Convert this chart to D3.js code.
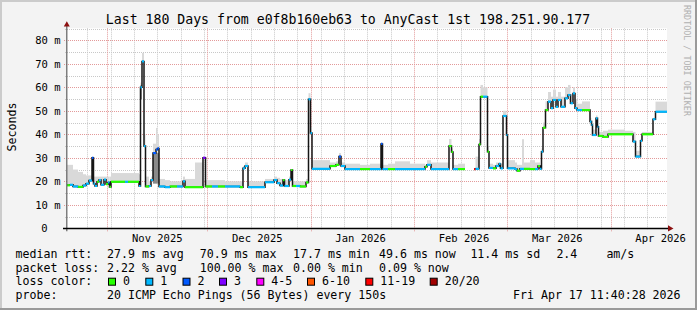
<!DOCTYPE html>
<html><head><meta charset="utf-8">
<script src="https://cdn.jsdelivr.net/npm/d3@7"></script>
<style>
body{margin:0;background:#fff}
svg{display:block}
text{font-family:'DejaVu Sans Mono','Liberation Mono',monospace;fill:#000}
</style>
</head><body>
<svg id="c" width="697" height="310"></svg>
<script>
// ---------- data ----------
const titleText = "Last 180 Days from e0f8b160eb63 to AnyCast 1st 198.251.90.177";
const startUTC = Date.UTC(2025, 9, 19, 21, 50);   // left edge of the plot
const spanDays = 180;

const yMajorTicks = [0, 10, 20, 30, 40, 50, 60, 70, 80];
const yMajorLabels = ["0", "10 m", "20 m", "30 m", "40 m", "50 m", "60 m", "70 m", "80 m"];
const yMinorTicks = [5, 15, 25, 35, 45, 55, 65, 75, 85];
const monthLabels = ["Nov 2025", "Dec 2025", "Jan 2026", "Feb 2026", "Mar 2026", "Apr 2026"];
const monthLabelDates = ["2025-11-16", "2025-12-16", "2026-01-16", "2026-02-16", "2026-03-16", "2026-04-16"];

// median RTT samples (start day offset, ms), loss bucket, smoke top (ms)
const days = [0, 0.9, 1.8, 3.3, 4.8, 5.7, 6.6, 7.5, 7.95, 8.4, 9.0, 9.6, 10.2, 11.1, 11.7, 12.3, 12.75, 13.2, 17.4, 18.3,
  21.6, 22.05, 22.5, 23.1, 23.55, 24.6, 25.2, 25.8, 26.7, 27.15, 27.6, 29.4, 30.9, 33.0, 34.8, 35.4, 38.4, 40.8, 41.55, 43.5,
  45.3, 47.4, 51.9, 52.8, 53.4, 54.3, 59.4, 62.1, 63.0, 63.9, 64.8, 65.25, 66.6, 67.2, 67.65, 68.7, 69.9, 71.7, 72.45, 73.05,
  73.5, 78.9, 80.7, 81.6, 82.2, 83.4, 87.9, 90.9, 94.2, 94.65, 96.3, 98.4, 102.9, 107.4, 108.0, 109.2, 114.6, 115.35, 115.8, 117.3,
  119.4, 122.1, 122.55, 123.6, 124.05, 124.8, 126.15, 126.6, 127.8, 128.7, 129.6, 130.05, 130.8, 131.85, 132.15, 134.4, 135.0, 135.9, 136.5, 137.1,
  138.9, 140.4, 141.3, 141.9, 142.35, 142.8, 143.55, 144.3, 145.2, 145.8, 146.7, 147.3, 148.2, 149.4, 150.3, 151.05, 151.8, 152.4, 153.0, 154.5,
  156.9, 157.35, 157.65, 158.7, 159.15, 159.45, 160.8, 162.3, 167.4, 169.8, 170.55, 172.05, 172.5, 175.8, 176.55];
const median = [18.3, 18.5, 17.8, 17.6, 18.2, 19.0, 20.3, 30.0, 19.0, 18.0, 19.8, 20.5, 18.5, 20.7, 18.8, 19.5, 17.6, 19.8, 19.8, 19.8,
  18.0, 60.0, 71.0, 35.0, 17.8, 18.0, 20.5, 32.0, 33.5, 34.0, 17.8, 17.5, 17.8, 17.8, 20.0, 17.5, 17.5, 30.0, 17.8, 17.8,
  17.8, 17.8, 17.5, 25.5, 26.5, 17.5, 19.6, 20.5, 19.2, 18.2, 20.5, 18.0, 20.7, 24.8, 18.0, 18.0, 17.8, 19.5, 54.9, 40.5,
  25.3, 26.5, 27.0, 30.5, 26.5, 25.2, 25.2, 25.2, 35.9, 25.2, 25.2, 25.2, 25.2, 26.2, 27.0, 25.2, 35.0, 32.5, 25.2, 25.2,
  null, 25.2, 25.3, 35.7, 56.0, 56.0, 32.6, 25.7, 25.5, 26.5, 27.4, 25.5, 47.8, 39.7, 25.5, 25.2, 24.5, 25.3, 25.3, 25.3,
  25.2, 25.2, 26.5, 25.3, 32.6, 42.8, 50.3, 53.9, 51.1, 54.6, 51.7, 54.6, 51.7, 55.3, 56.7, 53.2, 57.4, 51.1, 50.3, 50.3,
  45.4, 44.0, 39.7, 46.8, 43.2, 39.3, 38.9, 40.0, 40.0, 36.9, 30.5, 37.2, 40.0, 46.4, 49.6];
const loss = [0, 1, 1, 0, 1, 1, 1, 2, 1, 1, 0, 1, 1, 1, 0, 1, 0, 0, 1, 0,
  1, 1, 1, 1, 0, 1, 1, 2, 2, 2, 1, 1, 0, 1, 1, 0, 0, 3, 0, 1,
  0, 1, 0, 1, 1, 1, 1, 1, 1, 1, 0, 1, 1, 0, 0, 1, 0, 0, 1, 1,
  1, 0, 0, 2, 1, 1, 0, 1, 2, 1, 0, 1, 1, 0, 1, 1, 0, 0, 1, 0,
  null, 6, 1, 0, 0, 1, 0, 1, 0, 1, 1, 1, 1, 1, 1, 1, 0, 1, 1, 0,
  0, 1, 0, 1, 1, 0, 0, 1, 1, 1, 1, 1, 1, 1, 1, 1, 1, 1, 1, 0,
  1, 1, 1, 1, 1, 0, 0, 0, 0, 1, 1, 1, 0, 1, 1];
const smokeHi = [27, 27, 25, 24, 23, 22.5, 22.5, 30.5, 22, 22, 22, 22, 22, 22, 22, 22, 22, 23.5, 23.5, 23.5,
  23, 62, 74.6, 40, 22, 20, 22, 36, 42.7, 40, 21, 20.5, 20, 20, 22, 21, 28, 30.5, 20.5, 20.5,
  20.5, 20, 20, 26.5, 28, 20, 21, 22, 21.5, 21, 21, 20.5, 22, 25, 20, 20, 20, 21, 57.5, 43,
  29, 28, 28.5, 32, 28, 27.5, 27, 27.5, 36.5, 27, 27.5, 28.5, 27.5, 27, 29, 28, 38, 34, 27, 27.5,
  null, 25.2, 30.5, 38, 61, 60, 35, 27.5, 27, 28, 28, 27.5, 50, 41, 29, 28, 27, 27, 37.9, 28,
  29, 28, 28, 27, 34, 45, 54, 58, 56, 59, 56, 58, 56, 60, 61, 57, 60, 55, 53, 54,
  47, 46, 42, 48, 44, 41, 41.5, 42, 41.5, 41, 33, 38, 41, 47, 53.9];
// darker smoke patches: start day, end day, low ms, high ms
const darkStart = [22.05, 25.8];
const darkEnd = [22.5, 27.6];
const darkLo = [55, 19];
const darkHi = [61, 32];

const lossLabels = ["0", "1", "2", "3", "4-5", "6-10", "11-19", "20/20"];
const lossColors = ["#26ff00", "#00b8ff", "#0059ff", "#7e00ff", "#ff00ff", "#ff5500", "#ff0000", "#a10000"];

const rttHead = "median rtt:";
const rttStats = ["27.9 ms avg", "70.9 ms max", "17.7 ms min", "49.6 ms now", "11.4 ms sd", "2.4", "am/s"];
const lossHead = "packet loss:";
const lossStats = ["2.22 % avg", "100.00 % max", "0.00 % min", "0.09 % now"];
const colorHead = "loss color:";
const probeHead = "probe:";
const probeText = "20 ICMP Echo Pings (56 Bytes) every 150s";
const stampText = "Fri Apr 17 11:40:28 2026";
const yAxisTitle = "Seconds";
const watermark = "RRDTOOL / TOBI OETIKER";

// ---------- drawing ----------
const W = 697, H = 310;
const L = 67, R = 667, T = 28.3, B = 228.3;
const svg = d3.select("#c");
const DAY = 86400000;
const toDate = d => new Date(startUTC + d * DAY);
const x = d3.scaleUtc().domain([toDate(0), toDate(spanDays)]).range([L, R]);
const y = d3.scaleLinear().domain([0, 85.1]).range([B, T]);
const crisp = v => Math.round(v) + 0.5;

// background + frame
svg.append("rect").attr("width", W).attr("height", H).attr("fill", "#f3f3f3");
svg.append("path").attr("d", `M1,${H} V1 H${W}`).attr("fill", "none").attr("stroke", "#cbcbcb").attr("stroke-width", 2);
svg.append("path").attr("d", `M0,${H-1} H${W-1} V0`).attr("fill", "none").attr("stroke", "#9a9a9a").attr("stroke-width", 2);
svg.append("rect").attr("x", L).attr("y", T).attr("width", R - L).attr("height", B - T).attr("fill", "#fff");

// grid
const gGrid = svg.append("g");
const months = d3.utcMonth.range(toDate(0), toDate(spanDays));
const weeks = d3.utcSunday.range(toDate(0), toDate(spanDays)).filter(w => w.getUTCDate() !== 1);
yMinorTicks.forEach(v => {
  if (y(v) < T - 0.5) return;
  gGrid.append("line").attr("x1", L - 2).attr("x2", R).attr("y1", crisp(y(v))).attr("y2", crisp(y(v)))
    .attr("stroke", "#c8c8c8").attr("stroke-dasharray", "1,1");
});
weeks.forEach(w => {
  gGrid.append("line").attr("x1", crisp(x(w))).attr("x2", crisp(x(w))).attr("y1", T).attr("y2", B + 2)
    .attr("stroke", "#c8c8c8").attr("stroke-dasharray", "1,1");
});
yMajorTicks.slice(1).forEach(v => {
  gGrid.append("line").attr("x1", L - 3).attr("x2", R).attr("y1", crisp(y(v))).attr("y2", crisp(y(v)))
    .attr("stroke", "#e39a9a").attr("stroke-dasharray", "1,1");
});
months.forEach(m => {
  gGrid.append("line").attr("x1", crisp(x(m))).attr("x2", crisp(x(m))).attr("y1", T).attr("y2", B + 3)
    .attr("stroke", "#e39a9a").attr("stroke-dasharray", "1,1");
});

// samples
const samples = days.map((d, i) => ({
  t0: toDate(d), t1: toDate(i + 1 < days.length ? days[i + 1] : spanDays),
  v: median[i], l: loss[i], hi: smokeHi[i]
}));

// smoke
const gSmoke = svg.append("g");
samples.filter(s => s.v != null).forEach(s => {
  gSmoke.append("rect").attr("x", x(s.t0)).attr("width", Math.max(0.8, x(s.t1) - x(s.t0)))
    .attr("y", y(s.hi)).attr("height", Math.max(0, y(s.v) - y(s.hi))).attr("fill", "#d9d9d9");
});
darkStart.forEach((d, i) => {
  gSmoke.append("rect").attr("x", x(toDate(d))).attr("width", x(toDate(darkEnd[i])) - x(toDate(d)))
    .attr("y", y(darkHi[i])).attr("height", y(darkLo[i]) - y(darkHi[i])).attr("fill", "#8a8a8a");
});

// median step line
const pts = samples.map(s => ({t: s.t0, v: s.v}));
pts.push({t: toDate(spanDays), v: median[median.length - 1]});
const line = d3.line().defined(p => p.v != null).x(p => x(p.t)).y(p => y(p.v)).curve(d3.curveStepAfter);
svg.append("path").datum(pts).attr("d", line).attr("fill", "none").attr("stroke", "#151515").attr("stroke-width", 1.5);

// loss-coloured median pieces
samples.filter(s => s.v != null).forEach(s => {
  svg.append("line").attr("x1", x(s.t0)).attr("x2", Math.max(x(s.t1), x(s.t0) + 1))
    .attr("y1", y(s.v)).attr("y2", y(s.v)).attr("stroke", lossColors[s.l]).attr("stroke-width", 2.2);
});

// axes
svg.append("line").attr("x1", 66.8).attr("x2", 66.8).attr("y1", B + 3).attr("y2", 24).attr("stroke", "#606060").attr("stroke-width", 1.2);
svg.append("line").attr("x1", 63).attr("x2", 669).attr("y1", 228.5).attr("y2", 228.5).attr("stroke", "#000").attr("stroke-width", 1.4);
svg.append("path").attr("d", "M63.8,26.5 L69.8,26.5 L66.8,21.3 Z").attr("fill", "#8c1010");
svg.append("path").attr("d", "M668,225.3 L668,231.5 L673.5,228.4 Z").attr("fill", "#8c1010");

// y labels
yMajorTicks.forEach((v, i) => {
  svg.append("text").attr("x", v === 0 ? 47.5 : 60.5).attr("y", y(v) + 3.8)
    .attr("text-anchor", "end").attr("font-size", "10.5px").text(yMajorLabels[i]);
});
// x labels
monthLabels.forEach((lab, i) => {
  svg.append("text").attr("x", x(new Date(monthLabelDates[i] + "T00:00:00Z"))).attr("y", 241.5)
    .attr("text-anchor", "middle").attr("font-size", "10.5px").text(lab);
});

// titles
svg.append("text").attr("x", 348).attr("y", 24).attr("text-anchor", "middle").attr("font-size", "13.2px").text(titleText);
svg.append("text").attr("transform", "translate(15.5,127) rotate(-90)").attr("text-anchor", "middle")
  .attr("font-size", "11.6px").text(yAxisTitle);
svg.append("text").attr("transform", "translate(684.3,5) rotate(90)").attr("font-size", "8.4px")
  .style("fill", "#b0b0b0").text(watermark);

// legend
const lf = "11.6px";
const leg = (tx, xx, yy) => svg.append("text").attr("x", xx).attr("y", yy).attr("font-size", lf).style("white-space", "pre").text(tx);
const rowY = [258, 271.7, 285.4, 299];
const rttX = [107, 199.7, 293, 379, 470.4, 556.4, 606.4];
const lossX = [107, 199.7, 293, 379];
leg(rttHead, 15.5, rowY[0]);
rttStats.forEach((s, i) => leg(s, rttX[i], rowY[0]));
leg(lossHead, 15.5, rowY[1]);
lossStats.forEach((s, i) => leg(s, lossX[i], rowY[1]));
leg(colorHead, 15.5, rowY[2]);
const boxX = [108.5, 145.8, 183, 219.5, 256.8, 307.5, 365.8, 430.2];
lossLabels.forEach((lab, i) => {
  svg.append("rect").attr("x", boxX[i]).attr("y", 278.2).attr("width", 7).attr("height", 7)
    .attr("fill", lossColors[i]).attr("stroke", "#000").attr("stroke-width", 1);
  leg(lab, boxX[i] + 14.5, rowY[2]);
});
leg(probeHead, 15.5, rowY[3]);
leg(probeText, 107, rowY[3]);
leg(stampText, 513, rowY[3]);
</script>
</body></html>
